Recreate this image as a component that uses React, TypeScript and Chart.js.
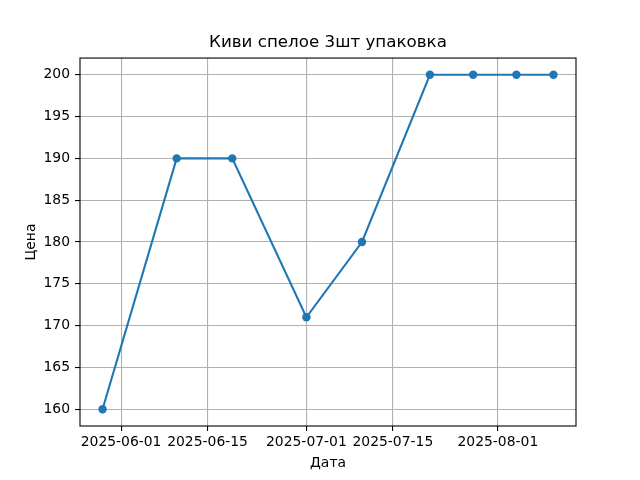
import { useEffect, useRef } from "react";
import { Chart, ChartConfiguration, Plugin, registerables } from "chart.js";
Chart.register(...registerables);

const dates = [
  "2025-05-29",
  "2025-06-10",
  "2025-06-19",
  "2025-07-01",
  "2025-07-10",
  "2025-07-21",
  "2025-07-28",
  "2025-08-04",
  "2025-08-10",
];
const prices = [160, 190, 190, 171, 180, 200, 200, 200, 200];
const xTickDates = ["2025-06-01", "2025-06-15", "2025-07-01", "2025-07-15", "2025-08-01"];
const yTicks = [160, 165, 170, 175, 180, 185, 190, 195, 200];

const FONT = "'DejaVu Sans', sans-serif";
const BLUE = "#1f77b4";

const toMs = (d: string) => Date.parse(d + "T00:00:00Z");
const fmt = (v: number) => new Date(v).toISOString().slice(0, 10);

// matplotlib-style frame round the axes
const framePlugin: Plugin = {
  id: "frame",
  afterDraw(chart) {
    const { ctx, chartArea: a } = chart;
    ctx.save();
    ctx.strokeStyle = "#000";
    ctx.lineWidth = 1.1;
    ctx.strokeRect(a.left, a.top, a.right - a.left, a.bottom - a.top);
    ctx.restore();
  },
};

const App = () => {
  const ref = useRef<HTMLCanvasElement>(null);

  useEffect(() => {
    const xs = dates.map(toMs);
    const xSpan = Math.max(...xs) - Math.min(...xs);
    const ySpan = Math.max(...prices) - Math.min(...prices);

    const config: ChartConfiguration = {
      type: "line",
      data: {
        datasets: [
          {
            data: xs.map((x, i) => ({ x, y: prices[i] })),
            borderColor: BLUE,
            backgroundColor: BLUE,
            borderWidth: 2.1,
            pointRadius: 4.2,
            pointHoverRadius: 4.2,
            pointBorderWidth: 0,
            tension: 0,
          },
        ],
      },
      options: {
        responsive: false,
        animation: false,
        devicePixelRatio: 1,
        layout: { padding: { left: 0, right: 64, top: 0, bottom: 0 } },
        plugins: {
          legend: { display: false },
          tooltip: { enabled: false },
          title: {
            display: true,
            text: "Киви спелое 3шт упаковка",
            color: "#000",
            fullSize: false,
            font: { family: FONT, size: 16.7, weight: "normal" },
            padding: { top: 33, bottom: 5 },
          },
        },
        scales: {
          x: {
            type: "linear",
            min: Math.min(...xs) - xSpan * 0.05,
            max: Math.max(...xs) + xSpan * 0.05,
            afterBuildTicks: (axis) => {
              axis.ticks = xTickDates.map((d) => ({ value: toMs(d) }));
            },
            afterFit: (axis) => {
              axis.height = 54;
            },
            ticks: {
              autoSkip: false,
              maxRotation: 0,
              color: "#000",
              padding: 3,
              font: { family: FONT, size: 13.9 },
              callback: (v) => fmt(Number(v)),
            },
            grid: { color: "#b0b0b0", lineWidth: 1.1, tickLength: 5, tickColor: "#000" },
            border: { display: false },
            title: {
              display: true,
              text: "Дата",
              color: "#000",
              font: { family: FONT, size: 13.9 },
              padding: { top: 0, bottom: 8 },
            },
          },
          y: {
            min: Math.min(...prices) - ySpan * 0.05,
            max: Math.max(...prices) + ySpan * 0.05,
            afterBuildTicks: (axis) => {
              axis.ticks = yTicks.map((v) => ({ value: v }));
            },
            afterFit: (axis) => {
              axis.width = 80;
            },
            ticks: {
              color: "#000",
              padding: 5,
              font: { family: FONT, size: 13.9 },
            },
            grid: { color: "#b0b0b0", lineWidth: 1.1, tickLength: 5, tickColor: "#000" },
            border: { display: false },
            title: {
              display: true,
              text: "Цена",
              color: "#000",
              font: { family: FONT, size: 13.9 },
              padding: { top: 23, bottom: 0 },
            },
          },
        },
      },
      plugins: [framePlugin],
    };
    const chart = new Chart(ref.current!, config);
    return () => {
      chart.destroy();
    };
  }, []);

  return (
    <div style={{ position: "fixed", left: 0, top: 0, width: 640, height: 480, background: "#fff" }}>
      <canvas ref={ref} width={640} height={480}></canvas>
    </div>
  );
};
export default App;
